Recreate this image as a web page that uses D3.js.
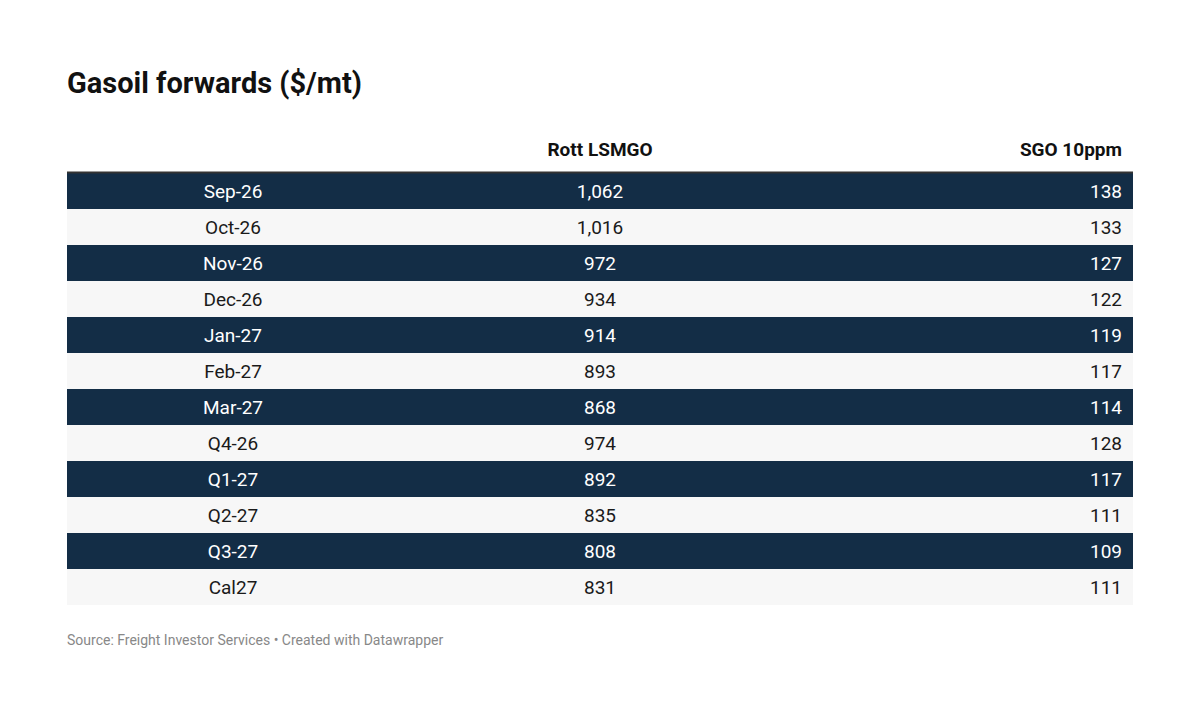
<!DOCTYPE html>
<html><head><meta charset="utf-8">
<script src="https://cdn.jsdelivr.net/npm/d3@7"></script>
<style>body{margin:0;background:#fff;font-family:Roboto,sans-serif}</style>
</head><body>
<script>
const title = "Gasoil forwards ($/mt)";
const headers = ["", "Rott LSMGO", "SGO 10ppm"];
const categories = ["Sep-26","Oct-26","Nov-26","Dec-26","Jan-27","Feb-27","Mar-27","Q4-26","Q1-27","Q2-27","Q3-27","Cal27"];
const rottLSMGO = [1062,1016,972,934,914,893,868,974,892,835,808,831];
const sgo10ppm = [138,133,127,122,119,117,114,128,117,111,109,111];
const source = "Source: Freight Investor Services • Created with Datawrapper";

const W=1200,H=716, x0=67, x1=1133, tableTop=173, rowH=36;
const svg=d3.select("body").append("svg").attr("width",W).attr("height",H);
svg.append("text").attr("x",67).attr("y",93).attr("font-size",29).attr("font-weight",700).attr("fill","#111").text(title);
const fmt=d3.format(",");
const y=d3.scaleBand().domain(categories).range([tableTop,tableTop+rowH*categories.length]).padding(0);
const colX=[233,600,1122], anchors=["middle","middle","end"];
headers.forEach((h,i)=>svg.append("text").attr("x",colX[i]).attr("y",156).attr("text-anchor",anchors[i]).attr("font-size",19).attr("font-weight",700).attr("fill","#111").text(h));
const rows=svg.selectAll("g.r").data(categories).join("g").attr("transform",d=>`translate(0,${y(d)})`);
rows.append("rect").attr("x",x0).attr("width",x1-x0).attr("height",y.bandwidth()).attr("fill",(d,i)=>i%2===0?"#132d46":"#f7f7f7");
rows.each(function(d,i){
  const g=d3.select(this), c=i%2===0?"#ffffff":"#1a1a1a";
  [d,fmt(rottLSMGO[i]),String(sgo10ppm[i])].forEach((t,j)=>g.append("text").attr("x",colX[j]).attr("y",rowH/2+7).attr("text-anchor",anchors[j]).attr("font-size",19).attr("fill",c).text(t));
});
svg.append("line").attr("x1",x0).attr("x2",x1).attr("y1",tableTop-0.5).attr("y2",tableTop-0.5).attr("stroke","#333").attr("stroke-width",2);
svg.append("text").attr("x",67).attr("y",645).attr("font-size",14).attr("fill","#888").text(source);
</script>
</body></html>
